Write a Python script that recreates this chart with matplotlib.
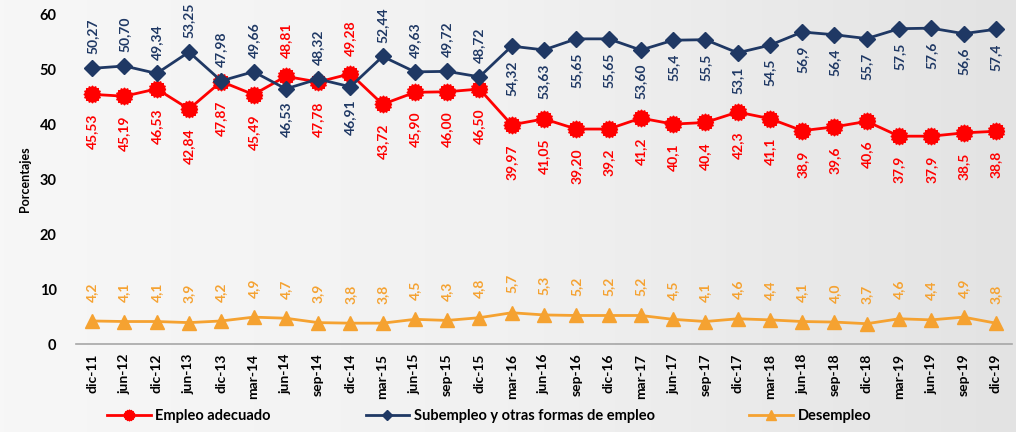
import numpy as np
import matplotlib.pyplot as plt
from matplotlib.path import Path
from matplotlib.colors import LinearSegmentedColormap

periodos = ["dic-11", "jun-12", "dic-12", "jun-13", "dic-13", "mar-14", "jun-14", "sep-14",
            "dic-14", "mar-15", "jun-15", "sep-15", "dic-15", "mar-16", "jun-16", "sep-16",
            "dic-16", "mar-17", "jun-17", "sep-17", "dic-17", "mar-18", "jun-18", "sep-18",
            "dic-18", "mar-19", "jun-19", "sep-19", "dic-19"]

empleo_adecuado = [45.53, 45.19, 46.53, 42.84, 47.87, 45.49, 48.81, 47.78, 49.28, 43.72,
                   45.90, 46.00, 46.50, 39.97, 41.05, 39.20, 39.2, 41.2, 40.1, 40.4,
                   42.3, 41.1, 38.9, 39.6, 40.6, 37.9, 37.9, 38.5, 38.8]
subempleo = [50.27, 50.70, 49.34, 53.25, 47.98, 49.66, 46.53, 48.32, 46.91, 52.44,
             49.63, 49.72, 48.72, 54.32, 53.63, 55.65, 55.65, 53.60, 55.4, 55.5,
             53.1, 54.5, 56.9, 56.4, 55.7, 57.5, 57.6, 56.6, 57.4]
desempleo = [4.2, 4.1, 4.1, 3.9, 4.2, 4.9, 4.7, 3.9, 3.8, 3.8, 4.5, 4.3, 4.8, 5.7, 5.3,
             5.2, 5.2, 5.2, 4.5, 4.1, 4.6, 4.4, 4.1, 4.0, 3.7, 4.6, 4.4, 4.9, 3.8]

# decimales usados en las etiquetas originales
dec_adecuado = [2] * 16 + [1] * 13
dec_subempleo = [2] * 18 + [1] * 11
dec_desempleo = [1] * 29

ROJO = "#ff0000"
AZUL = "#1f3864"
NARANJA = "#f5a231"
FUENTE = "Lato"

plt.rcParams["font.family"] = [FUENTE, "DejaVu Sans"]
plt.rcParams["font.weight"] = "bold"


def etiqueta(v, d):
    return f"{v:.{d}f}".replace(".", ",")


# marcador tipo engranaje (como el de Excel)
ang = np.linspace(0, 2 * np.pi, 33)
rad = np.where(np.arange(33) % 2 == 0, 1.0, 0.82)
engranaje = Path(np.column_stack([rad * np.cos(ang), rad * np.sin(ang)]))

fig = plt.figure(figsize=(10.16, 4.32), dpi=100)

# fondo degradado
bg = fig.add_axes([0, 0, 1, 1], zorder=-10)
cmap = LinearSegmentedColormap.from_list("fondo", ["#f7f7f7", "#f1f1f1", "#e3e3e3"])
bg.imshow(np.linspace(0, 1, 256).reshape(1, -1), cmap=cmap, aspect="auto",
          extent=[0, 1, 0, 1])
bg.axis("off")

ax = fig.add_axes([76 / 1016, 88 / 432, 936 / 1016, 329 / 432])
ax.patch.set_alpha(0)
x = np.arange(len(periodos))

ax.plot(x, empleo_adecuado, color=ROJO, lw=2, marker=engranaje, ms=12,
        label="Empleo adecuado", zorder=3)
ax.plot(x, subempleo, color=AZUL, lw=2, marker="D", ms=8,
        label="Subempleo y otras formas de empleo", zorder=3)
ax.plot(x, desempleo, color=NARANJA, lw=2, marker="^", ms=10,
        label="Desempleo", zorder=3)

kw = dict(textcoords="offset points", rotation=90, ha="center", fontsize=10,
          fontweight="bold")
for i in range(len(x)):
    # azul debajo de la roja en jun-14 y dic-14
    invertido = empleo_adecuado[i] > subempleo[i]
    if invertido:
        ax.annotate(etiqueta(empleo_adecuado[i], dec_adecuado[i]), (x[i], empleo_adecuado[i]),
                    xytext=(0, 13), va="bottom", color=ROJO, **kw)
        ax.annotate(etiqueta(subempleo[i], dec_subempleo[i]), (x[i], subempleo[i]),
                    xytext=(0, -9), va="top", color=AZUL, **kw)
    else:
        ax.annotate(etiqueta(empleo_adecuado[i], dec_adecuado[i]), (x[i], empleo_adecuado[i]),
                    xytext=(0, -14), va="top", color=ROJO, **kw)
        if i < 13:
            ax.annotate(etiqueta(subempleo[i], dec_subempleo[i]), (x[i], subempleo[i]),
                        xytext=(0, 10), va="bottom", color=AZUL, **kw)
        else:
            ax.annotate(etiqueta(subempleo[i], dec_subempleo[i]), (x[i], subempleo[i]),
                        xytext=(0, -10), va="top", color=AZUL, **kw)
    ax.annotate(etiqueta(desempleo[i], dec_desempleo[i]), (x[i], desempleo[i]),
                xytext=(0, 14), va="bottom", color=NARANJA, **kw)

ax.set_xlim(-0.5, len(x) - 0.5)
ax.set_ylim(0, 60)
ax.set_yticks(range(0, 61, 10))
ax.set_xticks(x)
ax.set_xticklabels(periodos, rotation=90, fontsize=10, fontweight="bold")
ax.tick_params(axis="both", length=0, labelsize=10.5)
ax.tick_params(axis="x", pad=7, labelsize=10)
ax.tick_params(axis="y", pad=14)
for lbl in ax.get_yticklabels():
    lbl.set_fontweight("bold")

for s in ["top", "right", "left"]:
    ax.spines[s].set_visible(False)
ax.spines["bottom"].set_color("#a6a6a6")
ax.spines["bottom"].set_linewidth(1.2)

ax.set_ylabel("Porcentajes", fontsize=9, fontweight="bold", labelpad=6)

fig.legend(loc="lower left", bbox_to_anchor=(94 / 1016, -0.01), ncol=3, frameon=False,
           handlelength=3.0, handletextpad=0.3, columnspacing=6.5, markerscale=0.65,
           prop={"weight": "bold", "size": 10.5})

fig.savefig("out.png", dpi=100)
